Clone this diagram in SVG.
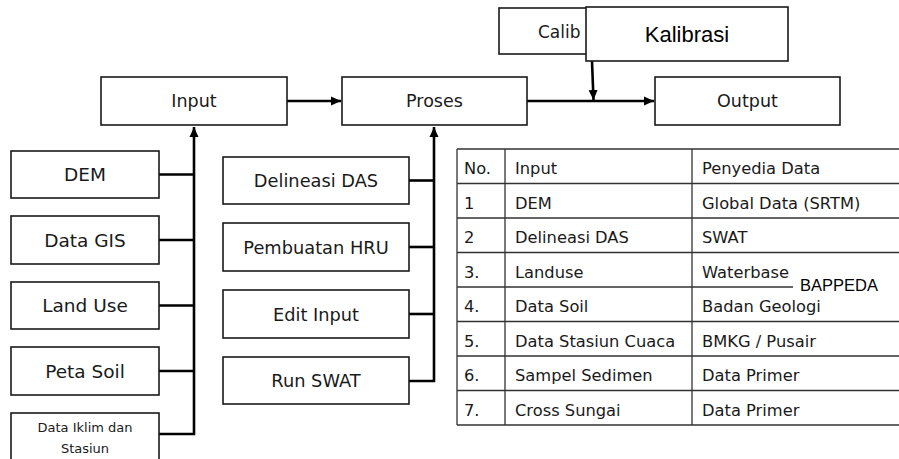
<svg xmlns="http://www.w3.org/2000/svg" width="899" height="459" viewBox="0 0 899 459">
<defs>
<marker id="arr" markerUnits="userSpaceOnUse" markerWidth="10" markerHeight="10" viewBox="0 0 10 10" refX="10" refY="5" orient="auto">
<path d="M0,0.5 L10,5 L0,9.5 Z" fill="#000"/>
</marker>
</defs>
<style>
.box{fill:#fff;stroke:#1a1a1a;stroke-width:1.6}
.t{font-family:"DejaVu Sans",sans-serif;fill:#1a1a1a;text-anchor:middle}
.tc{font-family:"Liberation Sans",Arial,sans-serif;fill:#000}
.tt{font-family:"DejaVu Sans",sans-serif;fill:#1a1a1a;font-size:16.3px}
.con{fill:none;stroke:#000;stroke-width:2.6}
.grid{stroke:#333;stroke-width:1.3;fill:none}
</style>
<rect width="899" height="459" fill="#fff"/>

<g id="connectors">
<line class="con" x1="287" y1="101" x2="341" y2="101" marker-end="url(#arr)"/>
<line class="con" x1="527" y1="101" x2="654" y2="101" marker-end="url(#arr)"/>
<line class="con" x1="592" y1="61" x2="593.5" y2="100" marker-end="url(#arr)"/>
<polyline class="con" points="159,434 194,434 194,127" marker-end="url(#arr)"/>
<line class="con" x1="159" y1="174.5" x2="194" y2="174.5"/>
<line class="con" x1="159" y1="240" x2="194" y2="240"/>
<line class="con" x1="159" y1="305.5" x2="194" y2="305.5"/>
<line class="con" x1="159" y1="371" x2="194" y2="371"/>
<polyline class="con" points="409,381 434,381 434,127" marker-end="url(#arr)"/>
<line class="con" x1="409" y1="180.5" x2="434" y2="180.5"/>
<line class="con" x1="409" y1="247" x2="434" y2="247"/>
<line class="con" x1="409" y1="314" x2="434" y2="314"/>
</g>

<g id="calib">
<rect class="box" x="499" y="8" width="190" height="46"/>
<text class="t" x="538" y="38" style="text-anchor:start;font-size:17px">Calib</text>
</g>
<g id="kalibrasi">
<rect class="box" x="586" y="7" width="202" height="54"/>
<text class="tc" x="687" y="42" font-size="22" text-anchor="middle">Kalibrasi</text>
</g>

<g id="input">
<rect class="box" x="101" y="77" width="186" height="48"/>
<text class="t" x="194" y="107" font-size="17.5">Input</text>
</g>
<g id="proses">
<rect class="box" x="342" y="77" width="185" height="48"/>
<text class="t" x="434.5" y="107" font-size="17.5">Proses</text>
</g>
<g id="output">
<rect class="box" x="655" y="77" width="185" height="48"/>
<text class="t" x="747.5" y="107" font-size="17.5">Output</text>
</g>

<g id="dem">
<rect class="box" x="11" y="151" width="148" height="47"/>
<text class="t" x="85" y="181" font-size="18.5">DEM</text>
</g>
<g id="datagis">
<rect class="box" x="11" y="216" width="148" height="48"/>
<text class="t" x="85" y="246.5" font-size="18.5">Data GIS</text>
</g>
<g id="landuse">
<rect class="box" x="11" y="282" width="148" height="47"/>
<text class="t" x="85" y="312" font-size="18.5">Land Use</text>
</g>
<g id="petasoil">
<rect class="box" x="11" y="347" width="148" height="48"/>
<text class="t" x="85" y="377.5" font-size="18.5">Peta Soil</text>
</g>
<g id="dataiklim">
<rect class="box" x="11" y="413" width="148" height="50"/>
<text class="t" x="85" y="432" font-size="13">Data Iklim dan</text>
<text class="t" x="85" y="453" font-size="13">Stasiun</text>
</g>

<g id="delineasi">
<rect class="box" x="223" y="157" width="186" height="47"/>
<text class="t" x="316" y="187" font-size="17.8">Delineasi DAS</text>
</g>
<g id="hru">
<rect class="box" x="223" y="223" width="186" height="48"/>
<text class="t" x="316" y="253.5" font-size="17.8">Pembuatan HRU</text>
</g>
<g id="editinput">
<rect class="box" x="223" y="290" width="186" height="48"/>
<text class="t" x="316" y="320.5" font-size="17.8">Edit Input</text>
</g>
<g id="runswat">
<rect class="box" x="223" y="357" width="186" height="47"/>
<text class="t" x="316" y="387" font-size="17.8">Run SWAT</text>
</g>

<g id="table">
<rect x="457" y="149" width="460" height="276" fill="#fff"/>
<path class="grid" d="M457,149 H899 M457,183.5 H899 M457,218 H899 M457,252.5 H899 M457,287 H899 M457,321.5 H899 M457,356 H899 M457,390.5 H899 M457,425 H899 M457,149 V425 M505,149 V425 M692,149 V425"/>
<text class="tt" x="464" y="174">No.</text>
<text class="tt" x="515" y="174">Input</text>
<text class="tt" x="702" y="174">Penyedia Data</text>
<text class="tt" x="464" y="208.5">1</text>
<text class="tt" x="515" y="208.5">DEM</text>
<text class="tt" x="702" y="208.5">Global Data (SRTM)</text>
<text class="tt" x="464" y="243">2</text>
<text class="tt" x="515" y="243">Delineasi DAS</text>
<text class="tt" x="702" y="243">SWAT</text>
<text class="tt" x="464" y="277.5">3.</text>
<text class="tt" x="515" y="277.5">Landuse</text>
<text class="tt" x="702" y="277.5">Waterbase</text>
<text class="tt" x="464" y="312">4.</text>
<text class="tt" x="515" y="312">Data Soil</text>
<text class="tt" x="702" y="312">Badan Geologi</text>
<text class="tt" x="464" y="346.5">5.</text>
<text class="tt" x="515" y="346.5">Data Stasiun Cuaca</text>
<text class="tt" x="702" y="346.5">BMKG / Pusair</text>
<text class="tt" x="464" y="381">6.</text>
<text class="tt" x="515" y="381">Sampel Sedimen</text>
<text class="tt" x="702" y="381">Data Primer</text>
<text class="tt" x="464" y="415.5">7.</text>
<text class="tt" x="515" y="415.5">Cross Sungai</text>
<text class="tt" x="702" y="415.5">Data Primer</text>
</g>

<g id="bappeda">
<rect x="793" y="275" width="106" height="21" fill="#fff"/>
<text class="tc" x="800" y="291" font-size="16.5">BAPPEDA</text>
</g>
</svg>
